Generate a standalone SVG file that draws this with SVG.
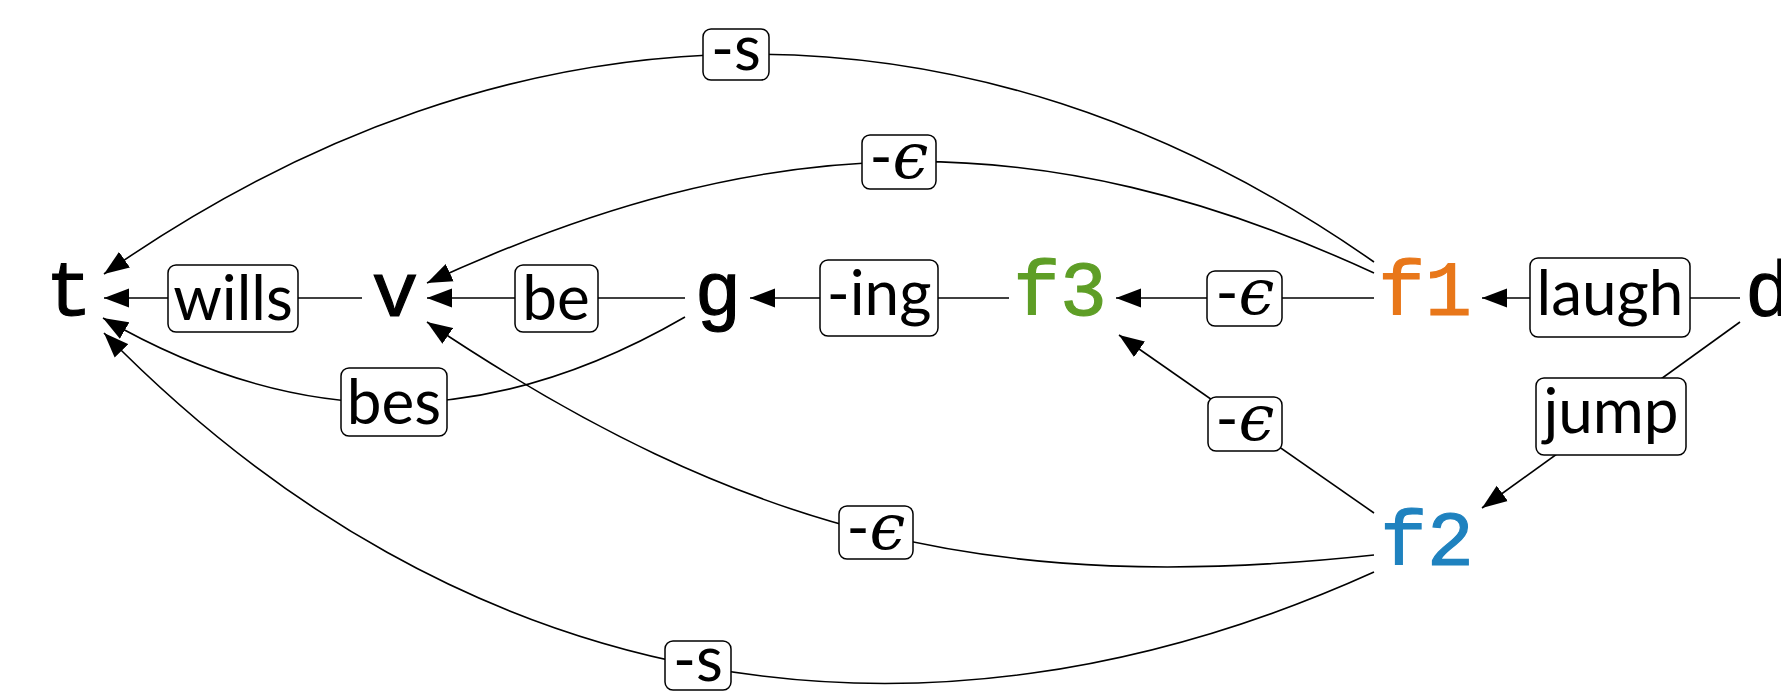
<svg xmlns="http://www.w3.org/2000/svg" width="1781" height="693" viewBox="0 0 1781 693">
<defs>
<style>
.edge{fill:none;stroke:#000;stroke-width:1.6;marker-end:url(#ah)}
.lbl{fill:#fff;stroke:#000;stroke-width:1.5}
.lt{font-family:Lato,"Liberation Sans",sans-serif;font-size:62px;fill:#000;text-anchor:middle}
.eps{font-family:"DejaVu Serif","Noto Sans",serif;font-style:italic;font-size:64px}
.node{font-family:"Liberation Mono","DejaVu Sans Mono",monospace;font-size:78px;text-anchor:middle;fill:#000;stroke:#000;stroke-width:1.2}
</style>
<marker id="ah" viewBox="0 0 26 20" refX="25" refY="10" markerWidth="26" markerHeight="20" markerUnits="userSpaceOnUse" orient="auto">
<path d="M0,0.5 L25,10 L0,19.5 Z" fill="#000"/>
</marker>
</defs>
<rect width="1781" height="693" fill="#fff"/>
<g id="connectors">
<g id="e-laugh"><path class="edge" d="M1740,298 L1482,298"/><rect class="lbl" x="1530" y="258" width="160" height="79" rx="8"/><text class="lt" x="1610" y="315">laugh</text></g>
<g id="e-jump"><path class="edge" d="M1740,322 L1482,508"/><rect class="lbl" x="1536" y="378" width="150" height="77" rx="8"/><text class="lt" x="1611" y="433">jump</text></g>
<g id="e-f1f3"><path class="edge" d="M1374,298 L1116,298"/><rect class="lbl" x="1207" y="271" width="75" height="55" rx="8"/><text class="lt" x="1245" y="314">-<tspan class="eps">ϵ</tspan></text></g>
<g id="e-f2f3"><path class="edge" d="M1374,513 L1119,335"/><rect class="lbl" x="1208" y="397" width="74" height="54" rx="8"/><text class="lt" x="1245" y="440">-<tspan class="eps">ϵ</tspan></text></g>
<g id="e-ing"><path class="edge" d="M1009,298 L750,298"/><rect class="lbl" x="820" y="260" width="118" height="76" rx="8"/><text class="lt" x="879" y="315">-ing</text></g>
<g id="e-be"><path class="edge" d="M685,298 L427,298"/><rect class="lbl" x="515" y="265" width="83" height="67" rx="8"/><text class="lt" x="556" y="320">be</text></g>
<g id="e-wills"><path class="edge" d="M362,298 L104,298"/><rect class="lbl" x="168" y="265" width="130" height="67" rx="8"/><text class="lt" x="233" y="320">wills</text></g>
<g id="e-bes"><path class="edge" d="M685,317 C488,431 300,432 103,318"/><rect class="lbl" x="341" y="368" width="106" height="68" rx="8"/><text class="lt" x="394" y="424">bes</text></g>
<g id="e-s-top"><path class="edge" d="M1374,262 C967,-23 511,-11 104,274"/><rect class="lbl" x="703" y="29" width="66" height="51" rx="8"/><text class="lt" x="736" y="70">-s</text></g>
<g id="e-eps-top"><path class="edge" d="M1374,273 C1038,118 763,128 427,283"/><rect class="lbl" x="862" y="135" width="74" height="54" rx="8"/><text class="lt" x="899" y="178">-<tspan class="eps">ϵ</tspan></text></g>
<g id="e-eps-bot"><path class="edge" d="M1374,555 C994,596 744,535 427,322"/><rect class="lbl" x="839" y="506" width="74" height="53" rx="8"/><text class="lt" x="876" y="549">-<tspan class="eps">ϵ</tspan></text></g>
<g id="e-s-bot"><path class="edge" d="M1374,572 C913,780 458,695 104,333"/><rect class="lbl" x="665" y="641" width="66" height="49" rx="8"/><text class="lt" x="698" y="681">-s</text></g>
</g>
<g id="node-t"><text class="node" x="69" y="315">t</text></g>
<g id="node-v"><text class="node" x="395" y="316">v</text></g>
<g id="node-g"><text class="node" x="718" y="316">g</text></g>
<g id="node-f3"><text class="node" x="1060" y="315" style="fill:#5E9E26;stroke:#5E9E26">f3</text></g>
<g id="node-f1"><text class="node" x="1425" y="315" style="fill:#E8771A;stroke:#E8771A">f1</text></g>
<g id="node-f2"><text class="node" x="1427" y="565" style="fill:#1F82BF;stroke:#1F82BF">f2</text></g>
<g id="node-d"><text class="node" x="1745" y="316" style="text-anchor:start">d</text></g>
</svg>
